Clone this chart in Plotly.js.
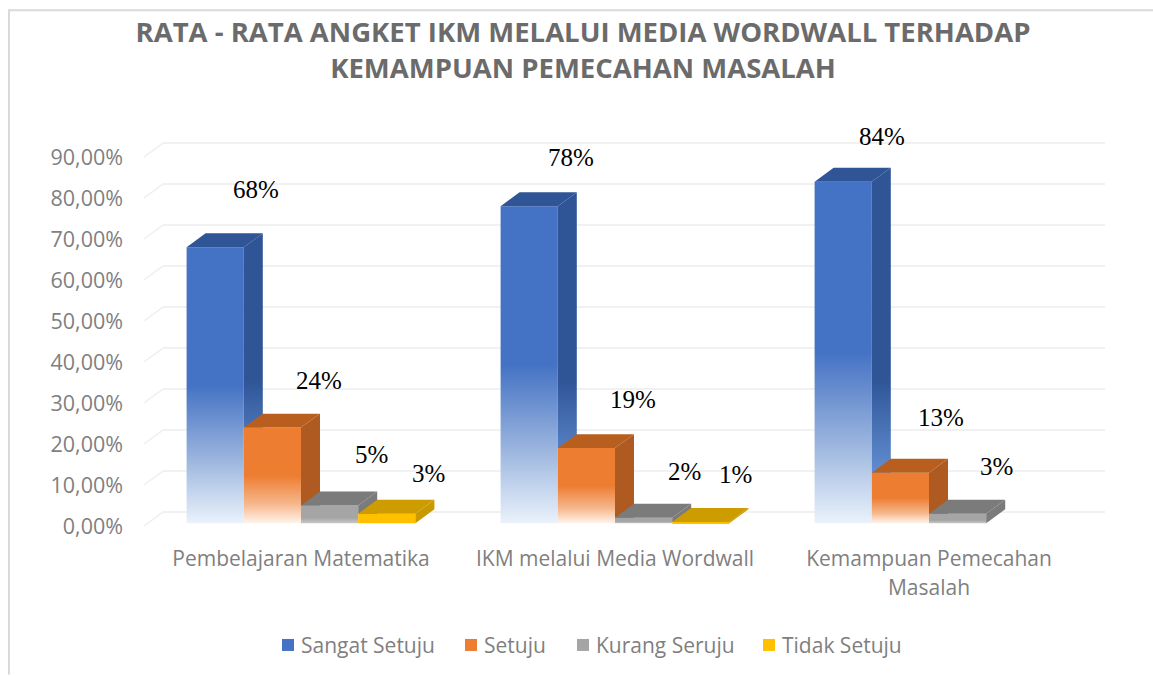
<!DOCTYPE html>
<html>
<head>
<meta charset="utf-8">
<script src="https://cdn.plot.ly/plotly-3.0.1.min.js"></script>
<style>html,body{margin:0;padding:0;background:#fff;overflow:hidden}</style>
</head>
<body>
<div id="chart" style="width:1153px;height:676px"></div>
<script>
const categories = ['Pembelajaran Matematika', 'IKM melalui Media Wordwall', 'Kemampuan Pemecahan<br>Masalah'];
const seriesNames = ['Sangat Setuju', 'Setuju', 'Kurang Seruju', 'Tidak Setuju'];
const sangatSetuju = [68, 78, 84];
const setuju = [24, 19, 13];
const kurangSetuju = [5, 2, 3];
const tidakSetuju = [3, 1, null];
const yTicks = [0, 10, 20, 30, 40, 50, 60, 70, 80, 90];
const yTickLabels = ['0,00%', '10,00%', '20,00%', '30,00%', '40,00%', '50,00%', '60,00%', '70,00%', '80,00%', '90,00%'];

const values = [sangatSetuju, setuju, kurangSetuju, tidakSetuju];
const frontColors = ['#4472c4', '#ed7d31', '#a5a5a5', '#ffc000'];
const sideColors = ['#2f5597', '#ae5a21', '#7b7b7b', '#c99a00'];
const topColors = ['#2f5597', '#b85f20', '#7b7b7b', '#cc9c00'];
const GRAY = '#7f7f7f';

/* layout in pixels */
const W = 1153, H = 676, L = 144, R = 47, T = 130, B = 149;
const pxPerCat = 314, pxPerUnit = 4.11;
const dx = 19 / pxPerCat, dy = 14 / pxPerUnit;   /* 3-D depth */
const floor = 0.7;
const barW = 57.2 / pxPerCat;
const xMin = -0.5, xMax = xMin + (W - L - R) / pxPerCat;
const yMax = (H - T - B) / pxPerUnit;

const barX = (c, s) => c + (s - 1.5) * barW;

const traces = [];
seriesNames.forEach((name, s) => {
  traces.push({
    type: 'bar', name, x: [0, 1, 2],
    y: values[s].map(v => v === null ? null : v - floor),
    base: floor,
    marker: { color: frontColors[s], line: { width: 0 } },
    hoverinfo: 'skip'
  });
});
seriesNames.forEach((name, s) => {
  const sx = [], sy = [], tx = [], ty = [];
  values[s].forEach((v, c) => {
    if (v === null) return;
    const left = barX(c, s) - barW / 2, right = left + barW;
    const next = s < 3 ? values[s + 1][c] : null;
    const low = next === null ? floor : next;
    const lowBack = next === null ? floor + dy : next;
    sx.push(right, right + dx, right + dx, right, null);
    sy.push(low, lowBack, v + dy, v, null);
    tx.push(left, left + dx, right + dx, right, null);
    ty.push(v, v + dy, v + dy, v, null);
  });
  [[sx, sy, sideColors[s]], [tx, ty, topColors[s]]].forEach(([x, y, col]) => {
    traces.push({
      type: 'scatter', mode: 'lines', x, y, fill: 'toself', fillcolor: col,
      line: { width: 0, color: col }, showlegend: false, hoverinfo: 'skip'
    });
  });
});

/* back-wall gridlines with the short diagonal to the front plane */
const shapes = yTicks.map(t => ({
  type: 'path', xref: 'x', yref: 'y', layer: 'below',
  path: `M ${xMin} ${t} L ${xMin + dx} ${t + dy} L ${xMin + dx + 3} ${t + dy}`,
  line: { color: '#f0f0f0', width: 1.5 }
}));
/* chart frame */
shapes.push({
  type: 'path', xref: 'paper', yref: 'paper', layer: 'below',
  path: `M ${(9 - L) / (W - L - R)} ${-(676 - T - (H - T - B)) / (H - T - B)} L ${(9 - L) / (W - L - R)} ${1 + (T - 10) / (H - T - B)} L ${1 + (R + 5) / (W - L - R)} ${1 + (T - 10) / (H - T - B)}`,
  line: { color: '#d9d9d9', width: 2 }
});

/* value labels sit up and to the right of each bar */
const labelNudgeX = [[41, 42, 39], [47, 47, 41], [42, 41, 39], [42, 35, 0]];
const labelNudgeY = [[58, 49, 45], [47, 49, 55], [51, 46, 47], [40, 47, 0]];
const annotations = [];
values.forEach((vals, s) => vals.forEach((v, c) => {
  if (v === null) return;
  annotations.push({
    x: barX(c, s), y: v, xref: 'x', yref: 'y', text: v + '%', showarrow: false,
    xanchor: 'center', yanchor: 'middle',
    xshift: labelNudgeX[s][c], yshift: labelNudgeY[s][c],
    font: { family: 'Liberation Serif', size: 25, color: '#000' }
  });
}));

const layout = {
  width: W, height: H,
  margin: { l: L, r: R, t: T, b: B, pad: 0 },
  paper_bgcolor: '#fff', plot_bgcolor: 'rgba(0,0,0,0)',
  font: { family: 'Open Sans', color: GRAY },
  title: {
    text: 'RATA - RATA ANGKET IKM MELALUI MEDIA WORDWALL TERHADAP<br>KEMAMPUAN PEMECAHAN MASALAH',
    font: { family: 'Open Sans', size: 27.5, color: '#6b6b6b', weight: 700 },
    x: 583 / W, xanchor: 'center', y: 1 - 42 / H, yanchor: 'middle'
  },
  barmode: 'group', bargap: 1 - 4 * barW, bargroupgap: 0,
  showlegend: true,
  legend: {
    orientation: 'h', x: 0.5, xanchor: 'center', y: -0.298, yanchor: 'middle',
    font: { family: 'Open Sans', size: 21, color: GRAY }, bgcolor: 'rgba(0,0,0,0)'
  },
  xaxis: {
    range: [xMin, xMax], tickmode: 'array', tickvals: [0, 1, 2], ticktext: categories,
    showgrid: false, zeroline: false, showline: false, ticks: '', automargin: false,
    tickangle: 0, ticklabelstandoff: 18, tickfont: { family: 'Open Sans', size: 21, color: GRAY }
  },
  yaxis: {
    range: [0, yMax], tickmode: 'array', tickvals: yTicks, ticktext: yTickLabels,
    showgrid: false, zeroline: false, showline: false, ticks: '', automargin: false,
    ticklabelstandoff: 20, tickfont: { family: 'Open Sans', size: 21.5, color: GRAY }
  },
  shapes, annotations
};
/* full-width gridline segment, appended separately so each tick has one path */
yTicks.forEach(t => shapes.push({
  type: 'line', xref: 'x', yref: 'y', layer: 'below',
  x0: xMin + dx, x1: 2.5 + dx, y0: t + dy, y1: t + dy,
  line: { color: '#f0f0f0', width: 1.5 }
}));

Plotly.newPlot('chart', traces, layout, { displayModeBar: false, responsive: false }).then(gd => {
  const NS = 'http://www.w3.org/2000/svg';
  const svg = gd.querySelector('svg.main-svg');
  const defs = svg.querySelector('defs') || svg.insertBefore(document.createElementNS(NS, 'defs'), svg.firstChild);
  const grad = (id, stops, attrs) => {
    const g = document.createElementNS(NS, 'linearGradient');
    g.setAttribute('id', id);
    Object.entries(Object.assign({ x1: 0, y1: 0, x2: 0, y2: 1 }, attrs || {})).forEach(([k, v]) => g.setAttribute(k, v));
    stops.forEach(([o, c]) => {
      const st = document.createElementNS(NS, 'stop');
      st.setAttribute('offset', o); st.setAttribute('stop-color', c);
      g.appendChild(st);
    });
    defs.appendChild(g);
  };
  grad('fade0', [[0, '#4472c4'], [0.5, '#4472c4'], [0.75, '#95b0dc'], [1, '#eaf2fb']]);
  grad('fade1', [[0, '#ed7d31'], [0.5, '#ed7d31'], [0.8, '#f6b78c'], [1, '#fff3ea']]);
  grad('fade2', [[0, '#a5a5a5'], [0.7, '#a5a5a5'], [1, '#c8c8c8']]);
  grad('side0', [[0, '#2f5597'], [1, '#5f8ccf']], { gradientUnits: 'userSpaceOnUse', x1: 0, x2: 0, y1: 380 - T, y2: 470 - T });
  gd.querySelectorAll('.barlayer .trace').forEach((tr, s) => {
    if (s > 2) return;
    tr.querySelectorAll('path').forEach(p => { p.style.fill = `url(#fade${s})`; });
  });
  const fills = gd.querySelectorAll('.scatterlayer .trace .js-fill');
  if (fills[0]) fills[0].style.fill = 'url(#side0)';

  /* line spacing of the two-line texts */
  gd.querySelectorAll('.xtick text tspan.line').forEach((t, i) => { if (i > 0) t.setAttribute('dy', '29px'); });
  gd.querySelectorAll('.gtitle tspan.line').forEach((t, i) => { if (i > 0) t.setAttribute('dy', '36px'); });

  /* compact legend entries: pitch and text gap as in the reference */
  const legendX = [282, 465, 577, 763];
  const lg = gd.querySelector('.legend');
  const m = /translate\(([-\d.]+)/.exec(lg.getAttribute('transform'));
  const ox = m ? parseFloat(m[1]) : 0;
  const box = lg.querySelector('.scrollbox');
  lg.querySelectorAll('.traces').forEach((tr, i) => {
    const t = tr.getAttribute('transform');
    const yy = /,\s*([-\d.]+)/.exec(t);
    tr.setAttribute('transform', `translate(${legendX[i] - ox - 14},${yy ? yy[1] : 0})`);
    const tx = tr.querySelector('text.legendtext');
    if (tx) tx.setAttribute('x', 33);
  });
  lg.removeAttribute('clip-path');
  if (box) box.removeAttribute('clip-path');
});
</script>
</body>
</html>
